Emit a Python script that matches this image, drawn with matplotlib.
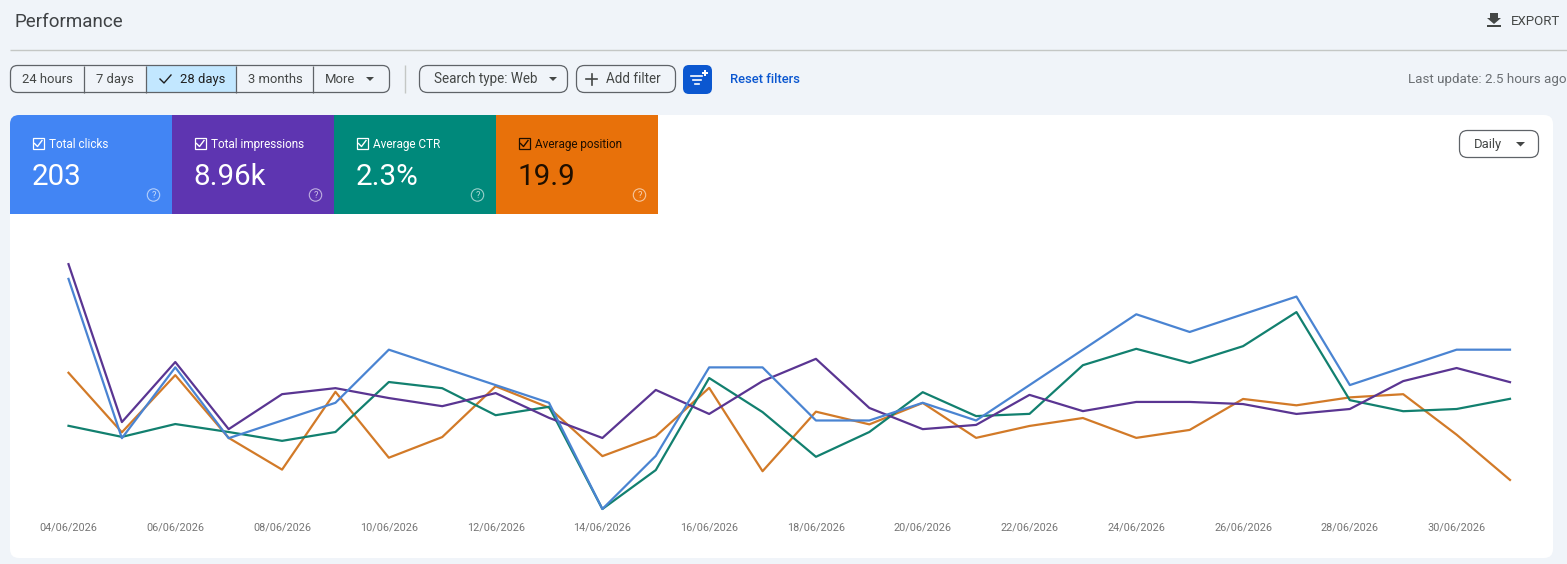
import matplotlib
matplotlib.use("Agg")
import matplotlib.pyplot as plt
from matplotlib.patches import FancyBboxPatch, Rectangle, Polygon, Circle

plt.rcParams['font.family'] = ['Roboto', 'DejaVu Sans']

days = list(range(28))
date_labels = ['04/06/2026', '06/06/2026', '08/06/2026', '10/06/2026', '12/06/2026',
               '14/06/2026', '16/06/2026', '18/06/2026', '20/06/2026', '22/06/2026',
               '24/06/2026', '26/06/2026', '28/06/2026', '30/06/2026']

clicks = [13, 4, 8, 4, 5, 6, 9, 8, 7, 6, 0, 3, 8, 8, 5, 5, 6, 5, 7, 9, 11, 10, 11, 12, 7, 8, 9, 9]
impressions = [693, 246, 416, 226, 325, 342, 314, 291, 328, 258, 201, 337, 269, 362,
               425, 286, 226, 238, 323, 277, 303, 303, 297, 269, 283, 362, 399, 359]
ctr = [1.88, 1.63, 1.92, 1.74, 1.54, 1.74, 2.87, 2.73, 2.12, 2.31, 0.0, 0.88, 2.96, 2.19,
       1.18, 1.74, 2.64, 2.10, 2.15, 3.25, 3.62, 3.30, 3.68, 4.45, 2.46, 2.21, 2.26, 2.49]
position = [13.7, 21.2, 14.0, 21.9, 25.9, 16.1, 24.4, 21.8, 15.4, 18.1, 24.2, 21.7, 15.6, 26.1,
            18.6, 20.2, 17.5, 21.9, 20.4, 19.4, 21.9, 20.9, 17.0, 17.8, 16.8, 16.4, 21.5, 27.2]

range_buttons = ['24 hours', '7 days', '28 days', '3 months', 'More']
tile_names = ['Total clicks', 'Total impressions', 'Average CTR', 'Average position']
tile_values = ['203', '8.96k', '2.3%', '19.9']

W, H = 1567, 564
fig = plt.figure(figsize=(W / 100, H / 100), dpi=100, facecolor='#f0f4f9')

# page furniture is drawn in pixel coordinates
ui = fig.add_axes([0, 0, 1, 1], zorder=0)
ui.set_xlim(0, W)
ui.set_ylim(H, 0)
ui.axis('off')


def px(size):
    return size * 0.72


def rbox(x0, y0, x1, y1, r, fc, ec='none', lw=1.0, z=1):
    ui.add_patch(FancyBboxPatch((x0, y0), x1 - x0, y1 - y0, boxstyle=f'round,pad=0,rounding_size={r}',
                                fc=fc, ec=ec, lw=lw, zorder=z))


def label(x, y, s, size, color='#444746', ha='left', weight='normal', z=5):
    ui.text(x, y + 0.8, s, fontsize=px(size), color=color, ha=ha, va='center', fontweight=weight, zorder=z)


def rule(xs, ys, color='#5f6368', lw=0.9, z=3):
    ui.plot(xs, ys, color=color, lw=lw, zorder=z, solid_capstyle='butt')


# header
label(14, 21, 'Performance', 18.8, '#3f4245')
ui.add_patch(Polygon([[1490, 13], [1498, 13], [1498, 18], [1501, 18], [1494, 24], [1487, 18], [1490, 18]],
                     fc='#444746', ec='none'))
ui.add_patch(Rectangle((1487, 25), 14, 2, fc='#444746', ec='none'))
label(1511, 21, 'EXPORT', 13.3, '#444746')
rule([10, W], [49.5, 49.5], color='#c4c7c5', lw=1)

# date range buttons
rbox(10.5, 65.5, 389.5, 92.5, 7, 'none', ec='#5f6368', lw=0.9, z=3)
ui.add_patch(Rectangle((146, 66), 90.5, 26, fc='#c2e7ff', ec='none', zorder=2))
for sx in [84, 146, 236, 313]:
    rule([sx, sx], [65.5, 92.5])
label(47.5, 78.5, range_buttons[0], 13, ha='center')
label(115, 78.5, range_buttons[1], 13, ha='center')
label(203, 78.5, range_buttons[2], 13, '#1f1f1f', ha='center')
ui.plot([160, 164, 171], [79, 83, 75], color='#1f1f1f', lw=1)
label(275, 78.5, range_buttons[3], 13, ha='center')
label(340, 78.5, range_buttons[4], 13, ha='center')
ui.add_patch(Polygon([[366, 77], [374, 77], [370, 81]], fc='#444746', ec='none'))

rule([405, 405], [65, 93], color='#c4c7c5', lw=1)

# filters
rbox(419.5, 65.5, 567.5, 92.5, 8, 'none', ec='#5f6368', lw=0.9)
label(434, 78.5, 'Search type: Web', 13.5)
ui.add_patch(Polygon([[549, 77], [557, 77], [553, 81]], fc='#444746', ec='none'))
rbox(576.5, 65.5, 675.5, 92.5, 8, 'none', ec='#5f6368', lw=0.9)
ui.plot([586, 597], [79, 79], color='#444746', lw=1.2)
ui.plot([591.5, 591.5], [73.5, 84.5], color='#444746', lw=1.2)
label(606, 78.5, 'Add filter', 13.5)
rbox(683, 65, 712, 94, 6, '#0b57d0')
ui.plot([691, 702], [75.5, 75.5], color='white', lw=1.2, zorder=3)
ui.plot([692.5, 700.5], [79.5, 79.5], color='white', lw=1.2, zorder=3)
ui.plot([695, 698.5], [83.5, 83.5], color='white', lw=1.2, zorder=3)
ui.plot([704.5], [73], marker='P', ms=4, color='white', mew=0, zorder=3)
label(730, 78.5, 'Reset filters', 13, '#0b57d0', weight='medium')
label(W, 79, 'Last update: 2.5 hours ago', 13.4, '#6b6f73', ha='right')

# white card and metric tiles
rbox(10, 115, 1553, 558, 9, 'white')
tile_x = [10, 172, 334, 496]
tile_colors = ['#4285f4', '#5e35b1', '#00897b', '#e8710a']
tile_text = ['white', 'white', 'white', '#1f0f00']
for i in range(4):
    x0 = tile_x[i]
    x1 = x0 + 162
    if i == 0:
        rbox(x0, 115, x1, 214, 9, tile_colors[i], z=2)
        ui.add_patch(Rectangle((x0, 135), 162, 79, fc=tile_colors[i], ec='none', zorder=2))
        ui.add_patch(Rectangle((x0 + 20, 115), 142, 30, fc=tile_colors[i], ec='none', zorder=2))
    else:
        ui.add_patch(Rectangle((x0, 115), 162, 99, fc=tile_colors[i], ec='none', zorder=2))
    c = tile_text[i]
    ui.add_patch(Rectangle((x0 + 22.5, 138), 11, 11, fc='none', ec=c, lw=0.9, zorder=3))
    ui.plot([x0 + 24.5, x0 + 27.5, x0 + 32], [143.5, 146.5, 140.5], color=c, lw=1, zorder=4)
    label(x0 + 39, 143.5, tile_names[i], 11.7, c)
    label(x0 + 21.5, 176, tile_values[i], 29.5, c)
    ui.add_patch(Circle((x0 + 143.5, 195), 6.2, fc='none', ec='white', lw=0.8, alpha=0.6, zorder=3))
    ui.text(x0 + 143.5, 195.3, '?', fontsize=px(9.5), color='white', alpha=0.7, ha='center', va='center', zorder=3)

rbox(1459.5, 130.5, 1538.5, 157.5, 8, 'white', ec='#5f6368', lw=0.9)
label(1474, 143.5, 'Daily', 13)
ui.add_patch(Polygon([[1516, 142], [1525, 142], [1520.5, 146.5]], fc='#444746', ec='none'))

# chart: each metric has its own hidden y scale, as in the original
box = [68.5 / W, (H - 509) / H, (1510 - 68.5) / W, 245 / H]
ax = fig.add_axes(box, zorder=1)
ax.patch.set_alpha(0)
for s in ax.spines.values():
    s.set_visible(False)
ax.set_xlim(0, 27)
ax.set_xticks(days[::2])
ax.set_xticklabels(date_labels)
ax.tick_params(axis='x', length=0, pad=10, labelsize=px(10.9), labelcolor='#757575')
ax.set_yticks([])

ax_pos = ax.twinx()
ax_ctr = ax.twinx()
ax_imp = ax.twinx()
ax_clk = ax.twinx()
for a in [ax_pos, ax_ctr, ax_imp, ax_clk]:
    a.axis('off')

ax_pos.plot(days, position, color='#d27a28', lw=1.6, clip_on=False)
ax_ctr.plot(days, ctr, color='#12806f', lw=1.6, clip_on=False)
ax_imp.plot(days, impressions, color='#5a3592', lw=1.6, clip_on=False)
ax_clk.plot(days, clicks, color='#4a84d2', lw=1.6, clip_on=False)

ax_clk.set_ylim(0, 13.84)
ax_imp.set_ylim(0, 693.4)
ax_ctr.set_ylim(0, 5.537)
ax_pos.set_ylim(30.86, 0)
ax.set_ylim(0, 1)

fig.savefig('out.png', dpi=100, facecolor=fig.get_facecolor())
